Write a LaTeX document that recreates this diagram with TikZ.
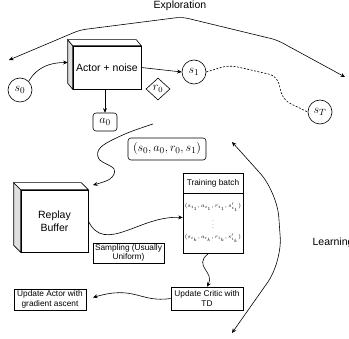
\documentclass[tikz,border=0pt]{standalone}
\usepackage{fontspec}
\setmainfont{Liberation Sans}
\usepackage{graphicx}
\usetikzlibrary{shapes.geometric,arrows.meta,calc}
\begin{document}
\begin{tikzpicture}[x=1pt,y=-1pt,line width=0.6pt,
  every node/.style={font=\fontsize{10.5}{12.5}\selectfont},
  st/.style={draw,circle,minimum size=24pt,inner sep=0pt,font=\fontsize{13}{15}\selectfont},
  bx/.style={draw,rectangle,inner sep=1pt,align=center,font=\fontsize{8.3}{9.6}\selectfont},
  arr/.style={-{Stealth[length=4.5pt,width=4pt]}},
  arrs/.style={{Stealth[length=4.5pt,width=4pt]}-{Stealth[length=4.5pt,width=4pt]}},
  cubeside/.style={draw,fill=gray!25},
  cubetop/.style={draw,fill=white},
  mathrow/.style={inner sep=0pt,font=\fontsize{6}{7}\selectfont}]
\useasboundingbox (0,0) rectangle (349,339);

% Exploration
\node (expl) at (180,6) {Exploration};
\coordinate (exl) at (9,60);
\coordinate (exr) at (345,77);
\draw[arrs,rounded corners=6pt] (exl) -- (80,30) -- (182,17) -- (277,40) -- (exr);

% Actor cube
\node[draw,minimum width=68pt,minimum height=43pt,inner sep=0pt] (actor) at (107,67.5) {Actor + noise};
\draw[cubeside] (actor.north west) -- ++(-5,-6) -- ($(actor.south west)+(-5,-6)$) -- (actor.south west) -- cycle;
\draw[cubetop] (actor.north west) -- ++(-5,-6) -- ($(actor.north east)+(-5,-6)$) -- (actor.north east) -- cycle;
\coordinate (actorside) at ($(actor.west)+(-5,-5)$);

% States
\node[st] (s0) at (20,90) {$s_0$};
\node[st] (s1) at (194,72) {$s_1$};
\node[st] (sT) at (320,112) {$s_T$};
\node[draw,diamond,aspect=1.1,minimum width=24pt,minimum height=22pt,inner sep=0pt,font=\fontsize{12}{14}\selectfont] (r0) at (158,89) {$r_0$};
\node[draw,rounded corners=3pt,minimum width=24pt,minimum height=18pt,inner sep=0pt,font=\fontsize{13}{15}\selectfont] (a0) at (105,122) {$a_0$};

\draw[arr] (s0.north east) to[out=60,in=180] (actorside);
\draw[arr] (actor.east) -- (s1.west);
\draw[arr] (actor.south -| a0.north) -- (a0.north);
\draw[dash pattern=on 2pt off 1.5pt,rounded corners=8pt] (s1.east) -- (229,65) -- (277,76) -- (283,100) -- (sT.west);

% Transition tuple
\node[draw,rounded corners=3pt,minimum width=78pt,minimum height=22pt,inner sep=1pt,font=\fontsize{12.5}{14}\selectfont] (tup) at (167,149) {$\bigl(s_0,a_0,r_0,s_1\bigr)$};

% Replay buffer cube
\node[draw,minimum width=67pt,minimum height=62pt,inner sep=0pt,align=center] (replay) at (54.5,221) {Replay\\Buffer};
\draw[cubeside] (replay.north west) -- ++(-7,-7) -- ($(replay.south west)+(-7,-7)$) -- (replay.south west) -- cycle;
\draw[cubetop] (replay.north west) -- ++(-7,-7) -- ($(replay.north east)+(-7,-7)$) -- (replay.north east) -- cycle;

\coordinate (fromact) at (153,124);
\coordinate (toreplay) at (93,185);
\draw[arr] plot[smooth,tension=0.6] coordinates {(fromact) (125,134) (101,147) (99,159) (114,169) (110,179) (toreplay)};

% Training batch
\node[draw,minimum width=60pt,minimum height=20pt,inner sep=0pt,font=\fontsize{8.3}{9.6}\selectfont] (bhead) at (213,183) {Training batch};
\node[draw,minimum width=60pt,minimum height=60pt,inner sep=0pt,anchor=north] (bbody) at (bhead.south) {};
\node[mathrow] (row1) at (213,207) {\resizebox{56pt}{!}{$(s_{i_1},a_{i_1},r_{i_1},s'_{i_1})$}};
\node[mathrow] (rowd) at (213,222.5) {\scalebox{0.8}{$\vdots$}};
\node[mathrow] (rowk) at (213,238) {\resizebox{56pt}{!}{$(s_{i_k},a_{i_k},r_{i_k},s'_{i_k})$}};

\draw[arr] (replay.east) .. controls (105,255) and (140,215) .. ($(bbody.west)+(0,-6)$);

\node[bx,minimum width=71pt,minimum height=20pt] (samp) at (128.5,253) {Sampling (Usually\\Uniform)};

% Updates
\node[bx,minimum width=72pt,minimum height=23pt] (critic) at (207,298.5) {Update Critic with\\TD};
\node[bx,minimum width=72pt,minimum height=21pt] (uact) at (50,299.5) {Update Actor with\\gradient ascent};

\draw[arr] ($(bbody.south)+(-5,0)$) .. controls (193,266) and (215,272) .. (critic.north);
\draw[arr,shorten >=7pt] (critic.west) .. controls (140,303) and (135,285) .. (uact.east);

% Learning
\node[anchor=west] (learn) at (309,243) {Learning};
\coordinate (lt) at (232,142);
\coordinate (lb) at (232,333);
\draw[arrs,rounded corners=25pt] (lt) -- (277,192) -- (282,262) -- (lb);
\end{tikzpicture}
\end{document}
